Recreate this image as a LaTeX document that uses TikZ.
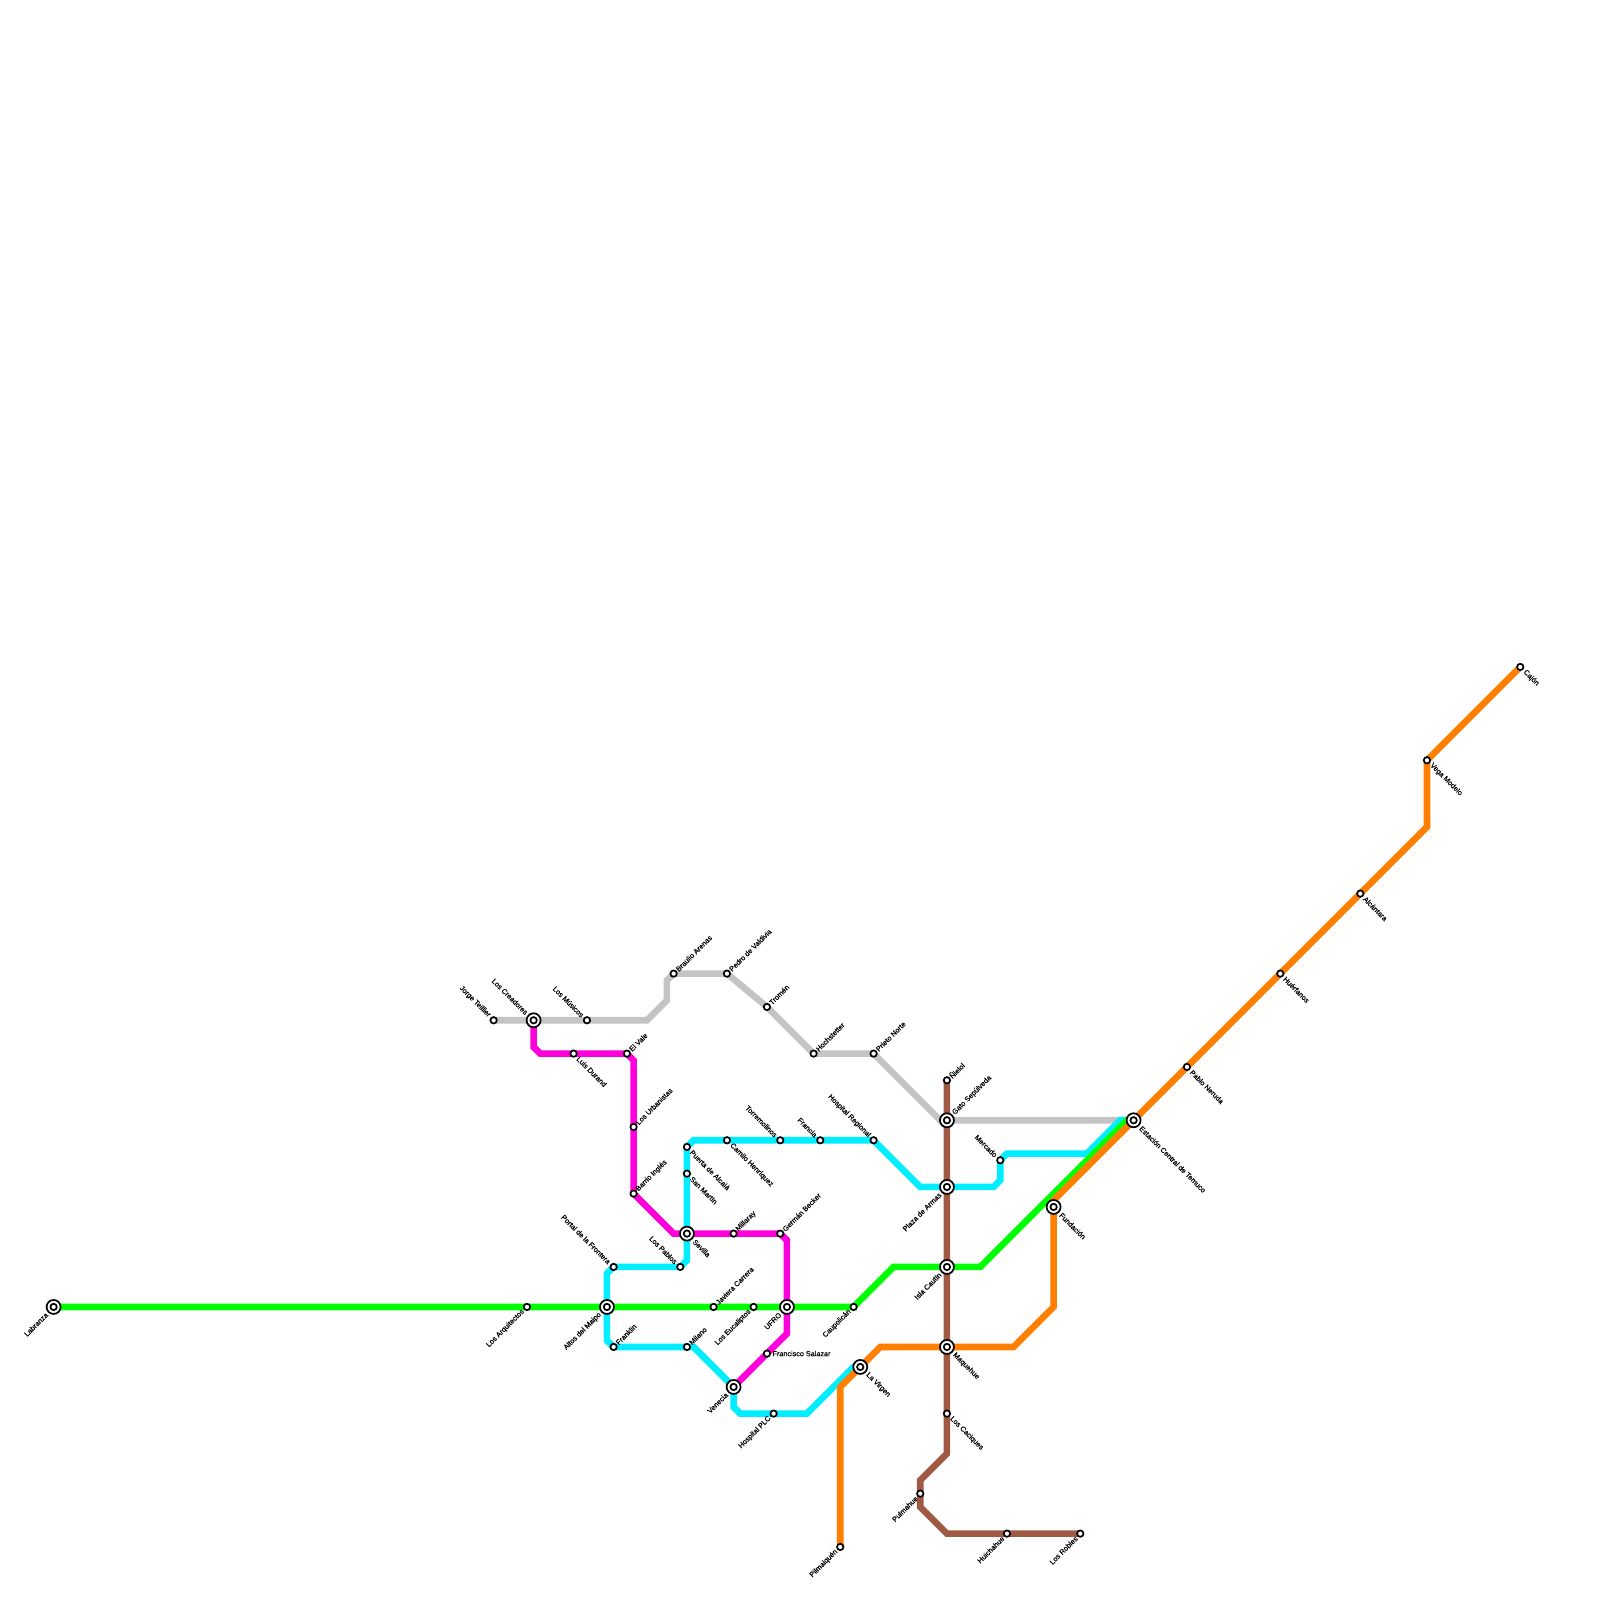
\documentclass[tikz,border=0pt]{standalone}
\usepackage{fontspec}
\setmainfont{Liberation Sans}
\newfontfamily\lblfont{Liberation Sans}[FakeBold=0.35]
\definecolor{lgreen}{HTML}{00FF00}
\definecolor{lcyan}{HTML}{00EEFF}
\definecolor{lmag}{HTML}{FF00DD}
\definecolor{lgray}{HTML}{C4C4C4}
\definecolor{lbrown}{HTML}{A05A44}
\definecolor{lorange}{HTML}{FF7F00}
\tikzset{
  every node/.append style={font=\lblfont\fontsize{3.62pt}{4pt}\selectfont},
  metro/.style={line width=3.3pt,line join=miter,line cap=butt},
  stn/.style={circle,draw=black,fill=white,line width=.85pt,minimum size=3.2pt,inner sep=0pt},
  hub/.style={circle,draw=black,fill=white,line width=.85pt,minimum size=7pt,inner sep=0pt,
    path picture={\draw[black,line width=.85pt] (path picture bounding box.center) circle (1.6pt);}},
  lblNE/.style={rotate=45,anchor=west,inner sep=0pt,text=black},
  lblSE/.style={rotate=-45,anchor=west,inner sep=0pt,text=black},
  lblNW/.style={rotate=-45,anchor=east,inner sep=0pt,text=black},
  lblSW/.style={rotate=45,anchor=east,inner sep=0pt,text=black},
}
\newcommand{\stnode}[5]{\node[stn] (#1) at (#2,#3) {};
  \path (#1) ++(\csname off#4\endcsname) node[lbl#4] (#1t) {#5};}
\newcommand{\hbnode}[5]{\node[hub] (#1) at (#2,#3) {};
  \path (#1) ++(\csname far#4\endcsname) node[lbl#4] (#1t) {#5};}
\newcommand{\offNE}{1.6pt,1.6pt}
\newcommand{\offSE}{2pt,-2pt}
\newcommand{\offNW}{-2pt,2pt}
\newcommand{\offSW}{-1.8pt,-1.8pt}
\newcommand{\farNE}{3.2pt,3.2pt}
\newcommand{\farSE}{3.4pt,-3.4pt}
\newcommand{\farNW}{-3.3pt,3.3pt}
\newcommand{\farSW}{-3.3pt,-3.3pt}
\begin{document}
\begin{tikzpicture}[x=3.33333pt,y=-3.33333pt]
\useasboundingbox (-0.04,-0.04) rectangle (239.96,239.96);
\fill[white] (-0.04,-0.04) rectangle (239.96,239.96);
\foreach \n/\x/\y in {
 jt/74/153,lc/80/153,lm/88/153,ba/101/146,pv/109/146,tr/115/151,ho/122/158,pn/131/158,
 gs/142/168,ec/170/168,ld/86/158,ev/94/158,lu/95/169,bi/95/179,se/103/185,mi/110/185,
 gb/117/185,uf/118/196,fs/115/203,ve/110/208,pa/103/172,sm/103/176,ch/109/171,to/117/171,
 fr/123/171,hr/131/171,pl/142/178,me/150/174,lp/102/190,pf/92/190,am/91/196,fk/92/202,
 ml/103/202,hp/116/212,lv/129/205,la/8/196,ar/79/196,jc/107/196,eu/113/196,ca/128/196,
 ic/142/190,mq/142/202,fu/158/181,pt/126/232,pb/178/160,hu/192/146,al/204/134,vm/214/114,
 cj/228/100,ni/142/162,cc/142/212,pu/138/224,hc/151/230,lr/162/230}
 {\coordinate (c\n) at (\x,\y);}
\draw[metro,lgray] (cjt) -- (clc) -- (clm) -- (97,153) -- (100,150) -- (100,147) -- (cba) -- (cpv) -- (ctr) -- (cho) -- (cpn) -- (141,168) -- (cgs) -- (cec);
\draw[metro,lmag] (clc) -- (80,157) -- (81,158) -- (cld) -- (cev) -- (95,159) -- (clu) -- (cbi) -- (101,185) -- (cse) -- (cmi) -- (cgb) -- (118,186) -- (cuf) -- (118,200) -- (cfs) -- (cve);
\draw[metro,lcyan] (cpa) -- (104,171) -- (cch) -- (cto) -- (cfr) -- (chr) -- (138,178) -- (cpl) -- (149,178) -- (150,177) -- (cme) -- (151,173) -- (163,173) -- (168,168) -- (cec);
\draw[metro,lcyan] (cpa) -- (csm) -- (cse) -- (103,189) -- (clp) -- (cpf) -- (91,191) -- (cam) -- (91,201) -- (cfk) -- (cml) -- (104,202) -- (cve) -- (110,211) -- (111,212) -- (chp) -- (121,212) -- (128,205) -- (clv);
\draw[metro,lgreen] (cla) -- (car) -- (cam) -- (cjc) -- (ceu) -- (cuf) -- (cca) -- (134,190) -- (cic) -- (147,190) -- (169,168) -- (cec);
\draw[metro,lbrown] (cni) -- (cgs) -- (cpl) -- (cic) -- (cmq) -- (ccc) -- (142,218) -- (138,222) -- (cpu) -- (138,226) -- (142,230) -- (chc) -- (clr);
\draw[metro,lorange] (cpt) -- (126,208) -- (clv) -- (132,202) -- (cmq) -- (152,202) -- (158,196) -- (cfu) -- (158,180) -- (cec) -- (cpb) -- (chu) -- (cal) -- (214,124) -- (cvm) -- (ccj);
\stnode{jt}{74}{153}{NW}{Jorge Teillier}
\hbnode{lc}{80}{153}{NW}{Los Creadores}
\stnode{lm}{88}{153}{NW}{Los Músicos}
\stnode{ba}{101}{146}{NE}{Braulio Arenas}
\stnode{pv}{109}{146}{NE}{Pedro de Valdivia}
\stnode{tr}{115}{151}{NE}{Tromén}
\stnode{ho}{122}{158}{NE}{Hochstetter}
\stnode{pn}{131}{158}{NE}{Prieto Norte}
\hbnode{gs}{142}{168}{NE}{Gato Sepúlveda}
\hbnode{ec}{170}{168}{SE}{Estación Central de Temuco}
\stnode{ld}{86}{158}{SE}{Luis Durand}
\stnode{ev}{94}{158}{NE}{El Vale}
\stnode{lu}{95}{169}{NE}{Los Urbanistas}
\stnode{bi}{95}{179}{NE}{Barrio Inglés}
\hbnode{se}{103}{185}{SE}{Sevilla}
\stnode{mi}{110}{185}{NE}{Millaray}
\stnode{gb}{117}{185}{NE}{Germán Becker}
\hbnode{uf}{118}{196}{SW}{UFRO}
\node[stn] (fs) at (115,203) {};
\node[anchor=west,inner sep=0pt,text=black] (fst) at ([xshift=2.6pt]fs.center) {Francisco Salazar};
\hbnode{ve}{110}{208}{SW}{Venecia}
\stnode{pa}{103}{172}{SE}{Puerta de Alcalá}
\stnode{sm}{103}{176}{SE}{San Martín}
\stnode{ch}{109}{171}{SE}{Camilo Henríquez}
\stnode{to}{117}{171}{NW}{Torremolinos}
\stnode{fr}{123}{171}{NW}{Francia}
\stnode{hr}{131}{171}{NW}{Hospital Regional}
\hbnode{pl}{142}{178}{SW}{Plaza de Armas}
\stnode{me}{150}{174}{NW}{Mercado}
\stnode{lp}{102}{190}{NW}{Los Pablos}
\stnode{pf}{92}{190}{NW}{Portal de la Frontera}
\hbnode{am}{91}{196}{SW}{Altos del Maipo}
\stnode{fk}{92}{202}{NE}{Franklin}
\stnode{ml}{103}{202}{NE}{Milano}
\stnode{hp}{116}{212}{SW}{Hospital PLC}
\hbnode{lv}{129}{205}{SE}{La Virgen}
\hbnode{la}{8}{196}{SW}{Labranza}
\stnode{ar}{79}{196}{SW}{Los Arquitectos}
\stnode{jc}{107}{196}{NE}{Javiera Carrera}
\stnode{eu}{113}{196}{SW}{Los Eucaliptos}
\stnode{ca}{128}{196}{SW}{Caupolicán}
\hbnode{ic}{142}{190}{SW}{Isla Cautín}
\hbnode{mq}{142}{202}{SE}{Maquehue}
\hbnode{fu}{158}{181}{SE}{Fundación}
\stnode{pt}{126}{232}{SW}{Pilmaiquén}
\stnode{pb}{178}{160}{SE}{Pablo Neruda}
\stnode{hu}{192}{146}{SE}{Huérfanos}
\stnode{al}{204}{134}{SE}{Alcántara}
\stnode{vm}{214}{114}{SE}{Vega Modelo}
\stnode{cj}{228}{100}{SE}{Cajón}
\stnode{ni}{142}{162}{NE}{Ñielol}
\stnode{cc}{142}{212}{SE}{Los Caciques}
\stnode{pu}{138}{224}{SW}{Pulmahue}
\stnode{hc}{151}{230}{SW}{Huichahue}
\stnode{lr}{162}{230}{SW}{Los Robles}
\end{tikzpicture}
\end{document}
